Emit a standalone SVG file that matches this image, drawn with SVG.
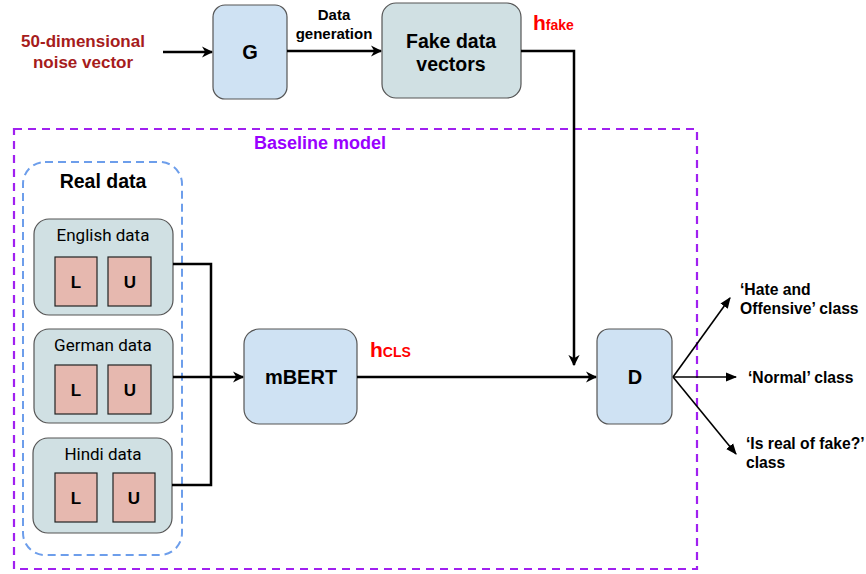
<svg xmlns="http://www.w3.org/2000/svg" width="866" height="574" viewBox="0 0 866 574">
<defs>
<style>
.t{font-family:"Liberation Sans",Arial,sans-serif;font-weight:bold;fill:#000}
.n{font-family:"Roboto","Liberation Sans",Arial,sans-serif;fill:#000}
.lu{font-family:"Liberation Sans",Arial,sans-serif;font-weight:bold;fill:#000;font-size:17px}
.blue{fill:#cfe2f3;stroke:#555;stroke-width:1.2}
.gray{fill:#d0e0e3;stroke:#555;stroke-width:1.2}
.pink{fill:#e6b8af;stroke:#222;stroke-width:1.2}
.ln{fill:none;stroke:#000;stroke-width:2.5}
.th{fill:none;stroke:#000;stroke-width:1.6}
.red{fill:#ff0000;font-family:"Liberation Sans",Arial,sans-serif;font-weight:bold}
</style>
<marker id="ah" viewBox="0 0 10 10" refX="9" refY="5" markerWidth="4.5" markerHeight="4.5" orient="auto" markerUnits="strokeWidth">
<path d="M0,0 L10,5 L0,10 L3,5 Z" fill="#000"/>
</marker>
<marker id="ah2" viewBox="0 0 10 10" refX="9" refY="5" markerWidth="7" markerHeight="7" orient="auto" markerUnits="strokeWidth">
<path d="M0,1 L10,5 L0,9 Z" fill="#000"/>
</marker>
</defs>

<rect x="14" y="129" width="683" height="440" fill="none" stroke="#a020f0" stroke-width="2.2" stroke-dasharray="8,6"/>
<text x="320" y="149" text-anchor="middle" class="t" style="fill:#9900ff;font-size:18px">Baseline model</text>

<g id="realdata">
<rect x="23" y="162" width="159" height="393" rx="22" fill="none" stroke="#6d9eeb" stroke-width="2" stroke-dasharray="8,5"/>
<text x="103" y="188" text-anchor="middle" class="t" style="font-size:19.5px">Real data</text>
</g>

<g id="noise">
<text x="83" y="47" text-anchor="middle" class="t" style="fill:#a61c1c;font-size:17px">50-dimensional</text>
<text x="83" y="68" text-anchor="middle" class="t" style="fill:#a61c1c;font-size:17px">noise vector</text>
</g>

<g id="G">
<rect x="213" y="5" width="74" height="94" rx="12" class="blue"/>
<text x="250" y="59" text-anchor="middle" class="t" style="font-size:20px">G</text>
</g>

<g id="fake">
<rect x="382" y="3" width="139" height="95" rx="14" class="gray"/>
<text x="451" y="48" text-anchor="middle" class="t" style="font-size:19.5px">Fake data</text>
<text x="451" y="71" text-anchor="middle" class="t" style="font-size:19.5px">vectors</text>
</g>

<g id="english">
<rect x="34" y="219" width="139" height="96" rx="15" class="gray"/>
<text x="103" y="241" text-anchor="middle" class="n" style="font-size:17px">English data</text>
<rect x="55" y="257" width="42" height="49" class="pink"/>
<text x="76" y="288" text-anchor="middle" class="lu">L</text>
<rect x="108" y="257" width="43" height="49" class="pink"/>
<text x="130" y="288" text-anchor="middle" class="lu">U</text>
</g>

<g id="german">
<rect x="34" y="329" width="139" height="94" rx="15" class="gray"/>
<text x="103" y="351" text-anchor="middle" class="n" style="font-size:17px">German data</text>
<rect x="55" y="365" width="42" height="49" class="pink"/>
<text x="76" y="396" text-anchor="middle" class="lu">L</text>
<rect x="108" y="365" width="43" height="49" class="pink"/>
<text x="130" y="396" text-anchor="middle" class="lu">U</text>
</g>

<g id="hindi">
<rect x="33" y="438" width="139" height="95" rx="15" class="gray"/>
<text x="103" y="460" text-anchor="middle" class="n" style="font-size:17px">Hindi data</text>
<rect x="55" y="473" width="42" height="49" class="pink"/>
<text x="76" y="504" text-anchor="middle" class="lu">L</text>
<rect x="113" y="473" width="42" height="49" class="pink"/>
<text x="134" y="504" text-anchor="middle" class="lu">U</text>
</g>

<g id="mbert">
<rect x="244" y="329" width="113" height="95" rx="15" class="blue"/>
<text x="301" y="384" text-anchor="middle" class="t" style="font-size:20px">mBERT</text>
</g>

<g id="D">
<rect x="597" y="329" width="75" height="95" rx="12" class="blue"/>
<text x="635" y="384" text-anchor="middle" class="t" style="font-size:20px">D</text>
</g>

<g id="connectors">
<line x1="163" y1="52" x2="212" y2="52" class="ln" marker-end="url(#ah)"/>
<line x1="287" y1="51" x2="381" y2="51" class="ln" marker-end="url(#ah)"/>
<polyline points="521,51 574,51 574,365" class="ln" marker-end="url(#ah)"/>
<polyline points="173,264 211,264 211,485 172,485" class="ln"/>
<line x1="173" y1="377" x2="243" y2="377" class="ln" marker-end="url(#ah)"/>
<line x1="357" y1="377" x2="596" y2="377" class="ln" marker-end="url(#ah)"/>
<line x1="673" y1="377" x2="730" y2="298" class="th" marker-end="url(#ah2)"/>
<line x1="673" y1="377" x2="736" y2="377" class="th" marker-end="url(#ah2)"/>
<line x1="673" y1="377" x2="736" y2="454" class="th" marker-end="url(#ah2)"/>
</g>

<text x="334" y="20" text-anchor="middle" class="t" style="font-size:15px">Data</text>
<text x="334" y="39" text-anchor="middle" class="t" style="font-size:15px">generation</text>
<text x="533" y="30" class="red" style="font-size:21px">h<tspan style="font-size:14px">fake</tspan></text>
<text x="370" y="357" class="red" style="font-size:21px">h<tspan style="font-size:14px">CLS</tspan></text>

<text x="740" y="295" class="t" style="font-size:15.7px">‘Hate and</text>
<text x="740" y="314" class="t" style="font-size:15.7px">Offensive’ class</text>
<text x="748" y="383" class="t" style="font-size:15.7px">‘Normal’ class</text>
<text x="746" y="449" class="t" style="font-size:15.7px">‘Is real of fake?’</text>
<text x="746" y="468" class="t" style="font-size:15.7px">class</text>
</svg>
